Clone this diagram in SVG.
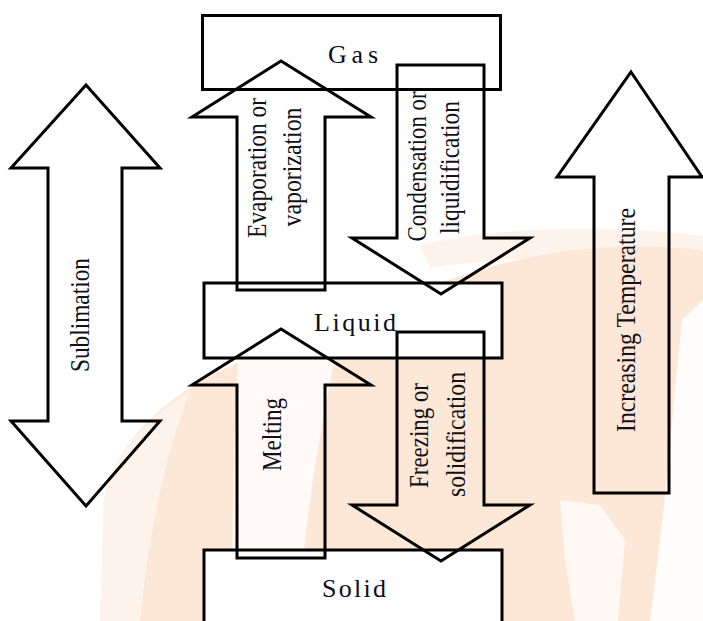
<svg xmlns="http://www.w3.org/2000/svg" width="703" height="621" viewBox="0 0 703 621">
<style>
.box{fill:#ffffff;stroke:#000;stroke-width:3}
.arr{fill:none;stroke:#000;stroke-width:3;stroke-linejoin:miter}
.lbl{font-family:"Liberation Serif","Times New Roman",serif;font-size:28px;fill:#111118;text-anchor:middle}
.nlbl{font-family:"Liberation Serif","Times New Roman",serif;font-size:26px;fill:#0d0d20;text-anchor:middle}
</style>
<rect width="703" height="621" fill="#ffffff"/>
<g id="watermark">
<path d="M 420 245 C 520 222 640 228 703 236 L 703 262 C 620 252 520 255 430 268 Z" fill="#fef3eb"/>
<path d="M 100 621 L 104 500 C 118 430 185 380 270 350 C 380 305 470 265 560 252 C 620 244 670 246 703 251 L 703 621 Z" fill="#fde7d6"/>
<path d="M 238 358 L 335 358 C 318 440 305 520 298 621 L 232 621 C 232 520 234 440 238 358 Z" fill="#ffffff" opacity="0.8"/>
<path d="M 100 621 L 104 500 C 112 460 140 420 190 392 C 170 440 150 520 140 621 Z" fill="#ffffff" opacity="0.5"/>
<path d="M 703 300 L 682 320 L 674 400 L 668 470 L 660 540 L 650 621 L 703 621 Z" fill="#ffffff" opacity="0.9"/>
<path d="M 560 500 L 600 505 L 625 540 L 618 621 L 575 621 L 565 560 Z" fill="#ffffff" opacity="0.7"/>
</g>
<g id="nodes">
<g id="gas"><rect class="box" x="202.5" y="15.5" width="298" height="74"/><text class="nlbl" x="353" y="63" textLength="50" lengthAdjust="spacing">Gas</text></g>
<g id="liquid"><rect class="box" x="204" y="283" width="298" height="75"/><text class="nlbl" x="355" y="331" textLength="82" lengthAdjust="spacing">Liquid</text></g>
<g id="solid"><rect class="box" x="204" y="550" width="298" height="80"/><text class="nlbl" x="354" y="597" textLength="64" lengthAdjust="spacing">Solid</text></g>
</g>
<g id="connectors">
<g id="evaporation">
<path class="arr" d="M 237 290 L 237 117 L 192 117 L 281 61 L 371 117 L 325 117 L 325 290 Z"/>
<text class="lbl" transform="translate(266,168) rotate(-90)" textLength="140" lengthAdjust="spacingAndGlyphs">Evaporation or</text>
<text class="lbl" transform="translate(301,167) rotate(-90)" textLength="119" lengthAdjust="spacingAndGlyphs">vaporization</text>
</g>
<g id="condensation">
<path class="arr" d="M 397 65 L 484 65 L 484 238 L 530 238 L 441 294 L 352 238 L 397 238 Z"/>
<text class="lbl" transform="translate(426,166.5) rotate(-90)" textLength="150" lengthAdjust="spacingAndGlyphs">Condensation or</text>
<text class="lbl" transform="translate(459,167.5) rotate(-90)" textLength="133" lengthAdjust="spacingAndGlyphs">liquidification</text>
</g>
<g id="melting">
<path class="arr" d="M 237 558 L 237 385 L 192 385 L 281 329 L 371 385 L 325 385 L 325 558 Z"/>
<text class="lbl" transform="translate(281,434.5) rotate(-90)" textLength="73" lengthAdjust="spacingAndGlyphs">Melting</text>
</g>
<g id="freezing">
<path class="arr" d="M 397 332 L 484 332 L 484 505 L 530 505 L 441 561 L 352 505 L 397 505 Z"/>
<text class="lbl" transform="translate(428,435.5) rotate(-90)" textLength="105" lengthAdjust="spacingAndGlyphs">Freezing or</text>
<text class="lbl" transform="translate(465,434.5) rotate(-90)" textLength="125" lengthAdjust="spacingAndGlyphs">solidification</text>
</g>
<g id="sublimation">
<path class="arr" d="M 86 85 L 160 168 L 122 168 L 122 421 L 160 421 L 86 506 L 11 421 L 48 421 L 48 168 L 11 168 Z"/>
<text class="lbl" transform="translate(89,315) rotate(-90)" textLength="114" lengthAdjust="spacingAndGlyphs">Sublimation</text>
</g>
<g id="temperature">
<path class="arr" d="M 631 72 L 702 177 L 669 177 L 669 493 L 594 493 L 594 177 L 557 177 Z"/>
<text class="lbl" transform="translate(635,320) rotate(-90)" textLength="224" lengthAdjust="spacingAndGlyphs">Increasing Temperature</text>
</g>
</g>
</svg>
